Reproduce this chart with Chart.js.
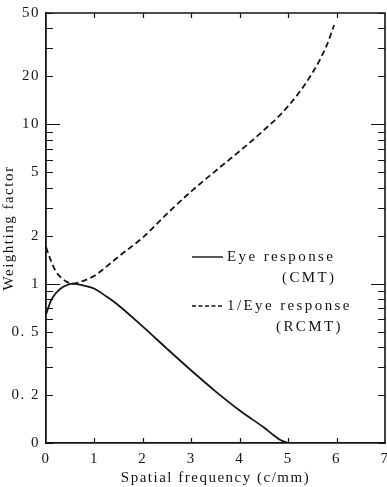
<!DOCTYPE html>
<html>
<head>
<meta charset="utf-8">
<script src="https://cdn.jsdelivr.net/npm/chart.js@4.4.1/dist/chart.umd.min.js"></script>
<style>
html, body { margin: 0; padding: 0; background: #fff; }
#wrap { width: 387px; height: 487px; }
</style>
</head>
<body>
<div id="wrap"><canvas id="chart"></canvas></div>
<script>
// values (spatial frequency in c/mm)
const cmt_freq = [0, 0.1, 0.2, 0.3, 0.4, 0.55, 0.8, 1.0, 1.25, 1.5, 2.0, 2.5, 3.0, 3.5, 4.0, 4.5, 4.7, 4.85, 5.0];
const cmt_vals = [0.64, 0.78, 0.87, 0.93, 0.97, 1.0, 0.97, 0.93, 0.83, 0.73, 0.537, 0.39, 0.285, 0.211, 0.16, 0.125, 0.112, 0.104, 0.1];

const rcmt_freq = [0, 0.1, 0.2, 0.3, 0.4, 0.55, 0.8, 1.0, 1.25, 1.5, 2.0, 2.5, 3.0, 3.5, 4.0, 4.5, 5.0, 5.5, 5.8, 5.95];
const rcmt_vals = [1.7, 1.4, 1.2, 1.1, 1.04, 1.0, 1.05, 1.12, 1.28, 1.48, 1.95, 2.75, 3.8, 5.1, 6.8, 9.2, 13.0, 21, 31.5, 42];

const x_ticks = [0, 1, 2, 3, 4, 5, 6, 7];
const y_ticks = [0.1, 0.2, 0.3, 0.4, 0.5, 0.6, 0.7, 0.8, 0.9, 1, 2, 3, 4, 5, 6, 7, 8, 9, 10, 20, 30, 40, 50];
const y_labels = { 0.1: '0', 0.2: '0. 2', 0.5: '0. 5', 1: '1', 2: '2', 5: '5', 10: '10', 20: '20', 50: '50' };

const legend_rows = [
	{ text: 'Eye response', sub: '(CMT)' },
	{ text: '1/Eye response', sub: '(RCMT)' }
];

const ink = '#141414';
const serif = "'Liberation Serif', 'DejaVu Serif', serif";

function pts(xs, ys) {
	return xs.map(function (v, i) { return { x: v, y: ys[i] }; });
}

// inward tick marks on all four sides plus the top/right frame
const frame_ticks = {
	id: 'frame_ticks',
	beforeDraw: function (chart) {
		chart.ctx.letterSpacing = '1.5px';
	},
	afterDatasetsDraw: function (chart) {
		const ctx = chart.ctx;
		const a = chart.chartArea;
		const x = chart.scales.x;
		const y = chart.scales.y;
		ctx.save();
		ctx.strokeStyle = ink;
		ctx.lineWidth = 1.6;
		ctx.beginPath();
		ctx.moveTo(a.left, a.top);
		ctx.lineTo(a.right, a.top);
		ctx.lineTo(a.right, a.bottom);
		ctx.stroke();

		ctx.lineWidth = 1.2;
		ctx.beginPath();
		y_ticks.forEach(function (v) {
			const py = Math.round(y.getPixelForValue(v)) + 0.5;
			const len = (v === 1 || v === 10) ? 14 : 7;
			ctx.moveTo(a.left, py);
			ctx.lineTo(a.left + len, py);
			ctx.moveTo(a.right, py);
			ctx.lineTo(a.right - len, py);
		});
		x_ticks.slice(1, -1).forEach(function (v) {
			const px = Math.round(x.getPixelForValue(v)) + 0.5;
			ctx.moveTo(px, a.bottom);
			ctx.lineTo(px, a.bottom - 5);
			ctx.moveTo(px, a.top);
			ctx.lineTo(px, a.top + 5);
		});
		ctx.stroke();
		ctx.restore();
	}
};

const legend_box = {
	id: 'legend_box',
	afterDraw: function (chart) {
		const ctx = chart.ctx;
		const ds = chart.data.datasets;
		ctx.save();
		ctx.fillStyle = ink;
		ctx.font = '15px ' + serif;
		ctx.letterSpacing = '2.4px';
		ctx.textBaseline = 'middle';
		const rows = [
			{ y: 257, sub_x: 282 },
			{ y: 306, sub_x: 276 }
		];
		legend_rows.forEach(function (r, i) {
			const row = rows[i];
			ctx.strokeStyle = ds[i].borderColor;
			ctx.lineWidth = 1.4;
			ctx.setLineDash(i === 1 ? [4, 2.5] : []);
			ctx.beginPath();
			ctx.moveTo(192, row.y);
			ctx.lineTo(223, row.y);
			ctx.stroke();
			ctx.setLineDash([]);
			ctx.textAlign = 'left';
			ctx.fillText(r.text, 227, row.y);
			ctx.fillText(r.sub, row.sub_x, row.y + 21);
		});
		ctx.restore();
	}
};

const ctx = document.getElementById('chart').getContext('2d');

const chart = new Chart(ctx, {
	type: 'line',
	data: {
		datasets: [{
			label: 'Eye response (CMT)',
			data: pts(cmt_freq, cmt_vals),
			borderColor: ink,
			borderWidth: 1.8,
			pointRadius: 0,
			cubicInterpolationMode: 'monotone',
			fill: false
		}, {
			label: '1/Eye response (RCMT)',
			data: pts(rcmt_freq, rcmt_vals),
			borderColor: ink,
			borderWidth: 1.8,
			borderDash: [6, 3.5],
			pointRadius: 0,
			cubicInterpolationMode: 'monotone',
			fill: false
		}]
	},
	options: {
		responsive: true,
		maintainAspectRatio: false,
		animation: false,
		layout: { padding: { top: 13, right: 2, left: 0, bottom: 0 } },
		plugins: {
			legend: { display: false },
			tooltip: { enabled: false }
		},
		scales: {
			x: {
				type: 'linear',
				min: 0,
				max: 7,
				afterBuildTicks: function (scale) {
					scale.ticks = x_ticks.map(function (v) { return { value: v }; });
				},
				afterFit: function (scale) {
					scale.height = 44;
					scale.paddingLeft = 0;
					scale.paddingRight = 0;
				},
				grid: { display: false, drawTicks: false },
				border: { display: true, color: ink, width: 1.8 },
				ticks: {
					color: ink,
					padding: 7,
					maxRotation: 0,
					autoSkip: false,
					font: { family: serif, size: 15 },
					callback: function (v) { return String(v); }
				},
				title: {
					display: true,
					text: 'Spatial frequency (c/mm)',
					color: ink,
					padding: { top: 2, bottom: 0 },
					font: { family: serif, size: 15 }
				}
			},
			y: {
				type: 'logarithmic',
				min: 0.1,
				max: 50,
				afterBuildTicks: function (scale) {
					scale.ticks = y_ticks.map(function (v) { return { value: v }; });
				},
				afterFit: function (scale) {
					scale.width = 46;
					scale.paddingTop = 0;
					scale.paddingBottom = 0;
				},
				grid: { display: false, drawTicks: false },
				border: { display: true, color: ink, width: 1.8 },
				ticks: {
					color: ink,
					padding: 6,
					autoSkip: false,
					font: { family: serif, size: 15 },
					callback: function (v) {
						return y_labels[v] !== undefined ? y_labels[v] : '';
					}
				},
				title: {
					display: true,
					text: 'Weighting factor',
					color: ink,
					padding: { top: 0, bottom: 2 },
					font: { family: serif, size: 15 }
				}
			}
		}
	},
	plugins: [frame_ticks, legend_box]
});
</script>
</body>
</html>
